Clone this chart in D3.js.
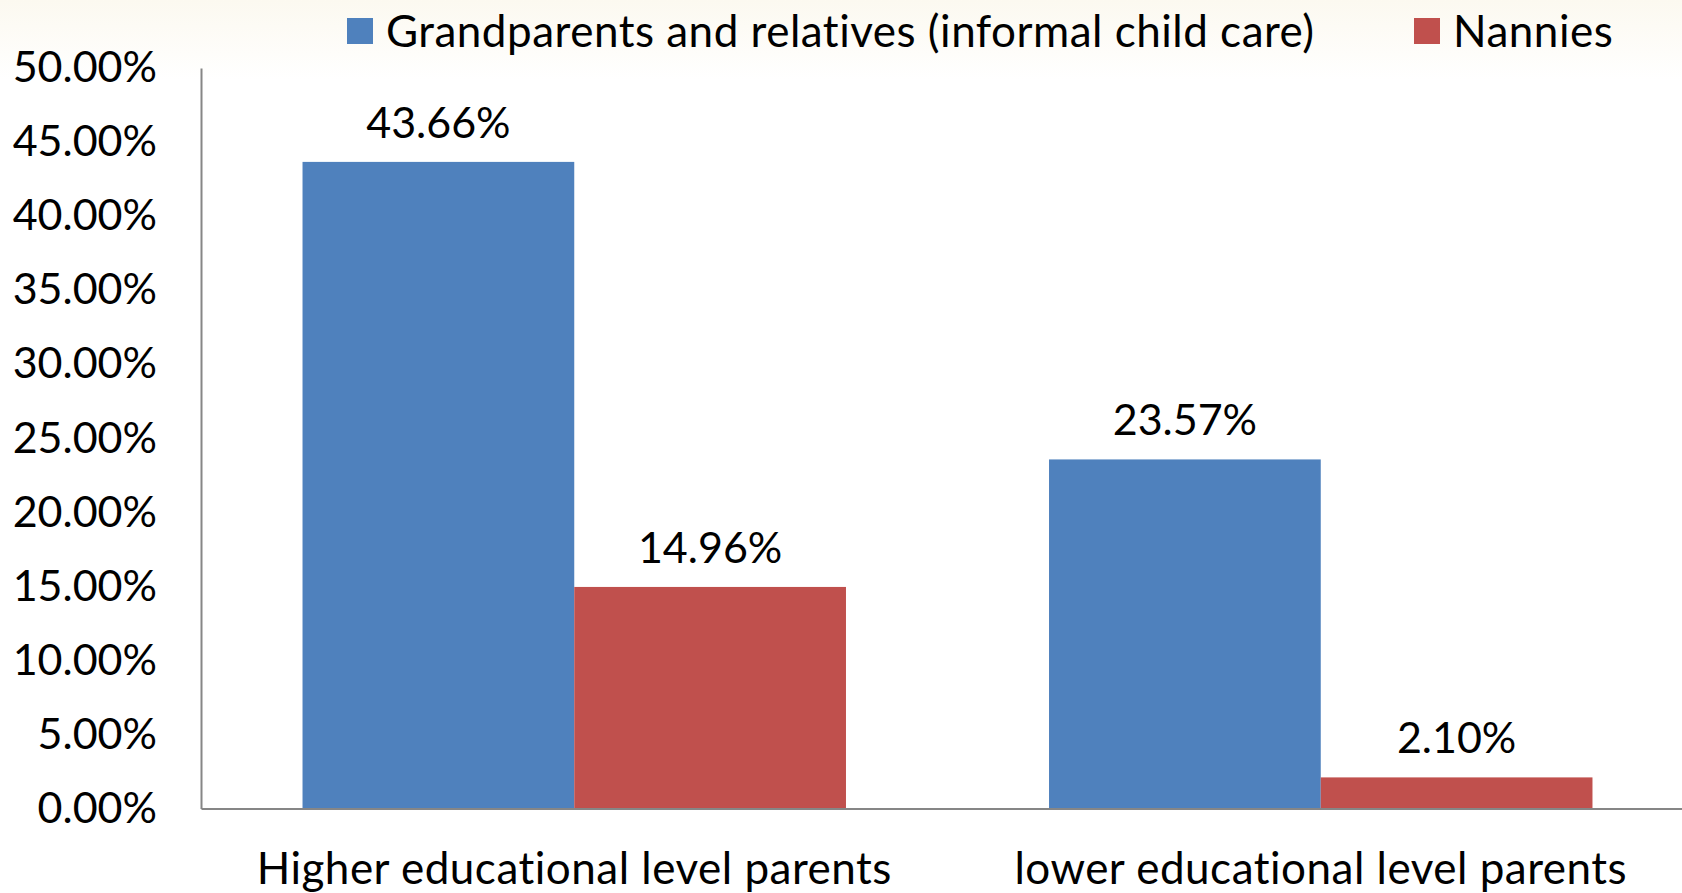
<!DOCTYPE html>
<html>
<head>
<meta charset="utf-8">
<script src="https://cdn.jsdelivr.net/npm/d3@7"></script>
<style>
  html, body { margin: 0; padding: 0; background: #ffffff; overflow: hidden; }
  svg { display: block; }
  text { font-family: Lato, "Open Sans", sans-serif; fill: #000; }
</style>
</head>
<body>
<svg id="chart" width="1682" height="893"></svg>
<script>
// Share of parents using each kind of child care, by educational level
const categories = ["Higher educational level parents", "lower educational level parents"];
const seriesNames = ["Grandparents and relatives (informal child care)", "Nannies"];
const grandparents = [43.66, 23.57];
const nannies = [14.96, 2.10];
const yTicks = [0, 5, 10, 15, 20, 25, 30, 35, 40, 45, 50];
const colors = ["#4F81BD", "#C0504D"];

const W = 1682, H = 893;
const plot = { left: 201, right: 1694, top: 68, bottom: 808.5 };
const numberSize = 43;   // tick and value labels
const wordSize = 44;     // legend and category labels
const wordSpacing = "0.5px";

const svg = d3.select("#chart");

// faint warm tint along the top edge
const defs = svg.append("defs");
const grad = defs.append("linearGradient").attr("id", "topTint")
  .attr("x1", 0).attr("y1", 0).attr("x2", 0).attr("y2", 1);
grad.append("stop").attr("offset", "0%").attr("stop-color", "#fcf9f0");
grad.append("stop").attr("offset", "100%").attr("stop-color", "#ffffff");
svg.append("rect").attr("width", W).attr("height", H).attr("fill", "#ffffff");
svg.append("rect").attr("width", W).attr("height", 80).attr("fill", "url(#topTint)");

const x0 = d3.scaleBand().domain(categories)
  .range([plot.left, plot.right]).paddingInner(0.272).paddingOuter(0.136);
const x1 = d3.scaleBand().domain(seriesNames).range([0, x0.bandwidth()]);
const y = d3.scaleLinear().domain([0, 50]).range([plot.bottom, plot.top]);

const rows = categories.map((c, i) => ({
  category: c,
  values: [
    { series: seriesNames[0], value: grandparents[i], color: colors[0] },
    { series: seriesNames[1], value: nannies[i], color: colors[1] }
  ]
}));

// bars
const groups = svg.append("g").selectAll("g").data(rows).join("g")
  .attr("transform", d => `translate(${x0(d.category)},0)`);
groups.selectAll("rect").data(d => d.values).join("rect")
  .attr("x", d => x1(d.series))
  .attr("y", d => y(d.value))
  .attr("width", x1.bandwidth())
  .attr("height", d => y(0) - y(d.value))
  .attr("fill", d => d.color);

// value labels
groups.selectAll("text.value").data(d => d.values).join("text")
  .attr("class", "value")
  .attr("x", d => x1(d.series) + x1.bandwidth() / 2)
  .attr("y", d => y(d.value) - 24)
  .attr("text-anchor", "middle")
  .style("font-size", numberSize + "px")
  .text(d => d.value.toFixed(2) + "%");

// y axis
const yAxis = d3.axisLeft(y).tickValues(yTicks).tickSize(0).tickPadding(44)
  .tickFormat(d => d.toFixed(2) + "%");
const gy = svg.append("g").attr("transform", `translate(${plot.left},0)`).call(yAxis);
gy.select(".domain").attr("stroke", "#868686").attr("stroke-width", 2);
gy.selectAll("text").style("font-size", numberSize + "px")
  .style("font-family", "Lato, sans-serif").attr("fill", "#000");

// x axis
const xAxis = d3.axisBottom(x0).tickSize(0).tickPadding(44);
const gx = svg.append("g").attr("transform", `translate(0,${plot.bottom})`).call(xAxis);
gx.select(".domain").attr("stroke", "#868686").attr("stroke-width", 2);
gx.selectAll("text").style("font-size", wordSize + "px")
  .style("letter-spacing", wordSpacing)
  .style("font-family", "Lato, sans-serif").attr("fill", "#000");

// legend
const legendItems = [
  { name: seriesNames[0], color: colors[0], x: 347 },
  { name: seriesNames[1], color: colors[1], x: 1414 }
];
const lg = svg.append("g").selectAll("g").data(legendItems).join("g")
  .attr("transform", d => `translate(${d.x},18)`);
lg.append("rect").attr("width", 26).attr("height", 26).attr("fill", d => d.color);
lg.append("text").attr("x", 39).attr("y", 29)
  .style("font-size", wordSize + "px")
  .style("letter-spacing", wordSpacing)
  .text(d => d.name);
</script>
</body>
</html>
